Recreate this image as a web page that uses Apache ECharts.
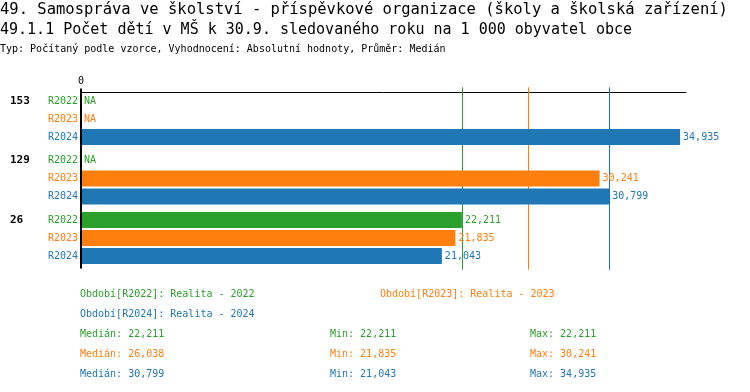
<!DOCTYPE html>
<html><head><meta charset="utf-8">
<script src="https://cdn.jsdelivr.net/npm/echarts@6/dist/echarts.min.js"></script>
<style>html,body{margin:0;padding:0;background:#fff}#c{width:750px;height:392px}</style>
</head><body><div id="c"></div>
<script>
const groups = ['153', '129', '26'];
const periods = ['R2022', 'R2023', 'R2024'];
const periodNames = ['Realita - 2022', 'Realita - 2023', 'Realita - 2024'];
const r2022 = [null, null, 22.211];
const r2023 = [null, 30.241, 21.835];
const r2024 = [34.935, 30.799, 21.043];
const colors = ['#2ca02c', '#ff7f0e', '#1f77b4'];
const axisMax = 35.28;
const FONT = '"DejaVu Sans Mono", "Liberation Mono", monospace';

const vals = [r2022, r2023, r2024];
const fmt = v => v.toFixed(3).replace('.', ',');
function stats(arr) {
  const a = arr.filter(v => v != null).sort((x, y) => x - y);
  const n = a.length;
  const med = n % 2 ? a[(n - 1) / 2] : (a[n / 2 - 1] + a[n / 2]) / 2;
  return { med, min: a[0], max: a[n - 1] };
}
const st = vals.map(stats);

const chart = echarts.init(document.getElementById('c'));

const barSeries = periods.map((p, i) => ({
  type: 'bar', name: p,
  data: vals[i].map(v => v == null ? { value: 0, label: { formatter: 'NA' } } : v),
  barWidth: 16, barGap: '12.5%',
  itemStyle: { color: colors[i] },
  label: { show: true, position: 'right', distance: 3, color: colors[i], fontFamily: FONT, fontSize: 10,
    formatter: q => fmt(q.value) },
  z: 5
}));

const medianSeries = periods.map((p, i) => ({
  type: 'custom', name: p + ' medián', clip: false, silent: true, z: 1,
  data: [[st[i].med, 0]],
  encode: { x: 0, y: 1 },
  itemStyle: { color: colors[i] },
  renderItem(params, api) {
    const cs = params.coordSys;
    const x = Math.round(api.coord([api.value(0), 0])[0]) + 0.5;
    return { type: 'line', shape: { x1: x, y1: cs.y - 2, x2: x, y2: cs.y + cs.height + 2 },
      style: { stroke: colors[i], lineWidth: 1, fill: null } };
  }
}));

const labelData = [];
groups.forEach((g, gi) => periods.forEach((p, pi) => labelData.push([0, gi, pi])));

const labelSeries = {
  type: 'custom', clip: false, silent: true, z: 6,
  data: labelData,
  encode: { x: 0, y: 1 },
  renderItem(params, api) {
    const gi = api.value(1), pi = api.value(2);
    const pt = api.coord([0, gi]);
    const y = pt[1] + (pi - 1) * 18;
    const children = [{ type: 'text', style: { text: periods[pi], x: pt[0] - 3, y: y, align: 'right', verticalAlign: 'middle',
      fill: colors[pi], font: '10px ' + FONT } }];
    if (pi === 0) children.push({ type: 'text', style: { text: groups[gi], x: 10, y: y, align: 'left', verticalAlign: 'middle',
      fill: '#000', font: 'bold 11px ' + FONT } });
    return { type: 'group', children };
  }
};

const graphics = [];
const legendPos = [[80, 294], [380, 294], [80, 314]];
periods.forEach((p, i) => {
  graphics.push({ type: 'text', left: legendPos[i][0], top: legendPos[i][1] - 5,
    style: { text: 'Období[' + p + ']: ' + periodNames[i], fill: colors[i], font: '10px ' + FONT } });
});
st.forEach((s, i) => {
  const y = 334 + i * 20 - 5;
  graphics.push({ type: 'text', left: 80, top: y, style: { text: 'Medián: ' + fmt(s.med), fill: colors[i], font: '10px ' + FONT } });
  graphics.push({ type: 'text', left: 330, top: y, style: { text: 'Min: ' + fmt(s.min), fill: colors[i], font: '10px ' + FONT } });
  graphics.push({ type: 'text', left: 530, top: y, style: { text: 'Max: ' + fmt(s.max), fill: colors[i], font: '10px ' + FONT } });
});

chart.setOption({
  animation: false,
  backgroundColor: '#fff',
  title: [
    { text: '49. Samospráva ve školství - příspěvkové organizace (školy a školská zařízení)', left: 0, top: 2, padding: 0,
      textStyle: { fontFamily: FONT, fontSize: 15.5, fontWeight: 'normal', color: '#000' } },
    { text: '49.1.1 Počet dětí v MŠ k 30.9. sledovaného roku na 1 000 obyvatel obce', left: 0, top: 23, padding: 0,
      textStyle: { fontFamily: FONT, fontSize: 15, fontWeight: 'normal', color: '#000' } },
    { text: 'Typ: Počítaný podle vzorce, Vyhodnocení: Absolutní hodnoty, Průměr: Medián', left: 0, top: 44, padding: 0,
      textStyle: { fontFamily: FONT, fontSize: 10, fontWeight: 'normal', color: '#000' } }
  ],
  grid: { left: 81, top: 89.25, width: 605, height: 178.5, containLabel: false },
  xAxis: {
    type: 'value', position: 'top', min: 0, max: axisMax, interval: axisMax, offset: -3,
    axisLine: { show: true, lineStyle: { color: '#000', width: 1 } },
    axisTick: { show: false }, splitLine: { show: false },
    axisLabel: { show: true, fontFamily: FONT, fontSize: 10, color: '#000', margin: 6,
      formatter: v => v === 0 ? '0' : '' }
  },
  yAxis: {
    type: 'category', data: groups, inverse: true, z: 10,
    axisLine: { show: true, lineStyle: { color: '#000', width: 2 } },
    axisTick: { show: false }, axisLabel: { show: false }, splitLine: { show: false }
  },
  series: [...medianSeries, ...barSeries, labelSeries],
  graphic: graphics
});
</script></body></html>
